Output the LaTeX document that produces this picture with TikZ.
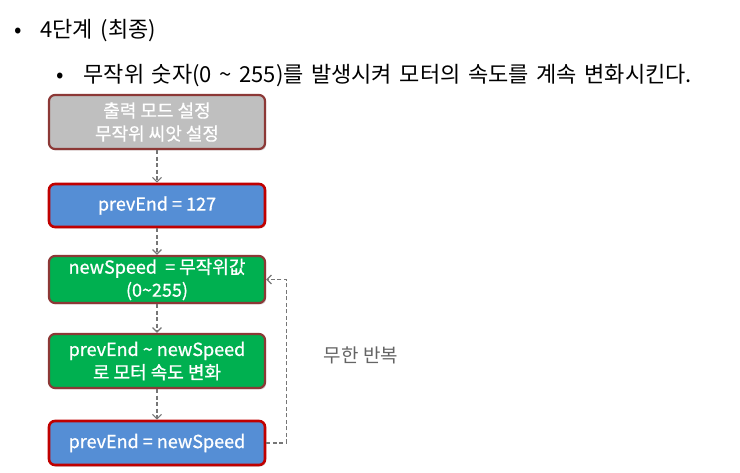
\documentclass[tikz,border=0pt]{standalone}
\usepackage{fontspec}
\setmainfont{Noto Sans CJK KR}
\newfontfamily\boxfont[RawFeature={embolden=0.8}]{Noto Sans CJK KR}
\usetikzlibrary{arrows.meta,shadows}
\definecolor{grayfill}{RGB}{191,191,191}
\definecolor{bluefill}{RGB}{85,142,213}
\definecolor{greenfill}{RGB}{0,176,80}
\definecolor{darkred}{RGB}{140,56,54}
\definecolor{brightred}{RGB}{192,0,0}
\definecolor{linegray}{RGB}{118,118,118}
\definecolor{labelgray}{RGB}{100,100,100}
\newcommand\widespace{\spaceskip=7.6pt plus 1pt\relax}

\tikzset{
  stepbox/.style={rounded corners=6pt, minimum width=216pt, text=white, align=center,
    font=\boxfont\fontsize{18}{23}\selectfont, line width=2.2pt, inner sep=0pt,
    drop shadow={shadow xshift=1.2pt, shadow yshift=-1.5pt, opacity=0.35}},
  graybox/.style={stepbox, fill=grayfill, draw=darkred},
  bluebox/.style={stepbox, fill=bluefill, draw=brightred, line width=2.6pt},
  greenbox/.style={stepbox, fill=greenfill, draw=darkred},
  bullettext/.style={anchor=base west, font=\fontsize{22}{26}\selectfont\widespace},
  flow/.style={-{Straight Barb[length=4.5pt,width=9pt]}, dash pattern=on 4pt off 2.5pt,
    line width=1.2pt, draw=linegray}
}

\begin{document}
\begin{tikzpicture}[x=1pt,y=-1pt]
    \useasboundingbox (0,0) rectangle (740,473);

    % bullet lines
    \node[bullettext] (dotA) at (11,38) {•};
    \node[bullettext] (title) at (37,38) {4단계 (최종)};
    \node[bullettext] (dotB) at (53,83) {•};
    \node[bullettext] (desc) at (80,83) {무작위 숫자(0 \textasciitilde{} 255)를 발생시켜 모터의 속도를 계속 변화시킨다.};

    % flow boxes
    \node[graybox, minimum height=54pt] (init) at (157,122) {출력 모드 설정\\무작위 씨앗 설정};
    \node[bluebox, minimum height=43pt] (start) at (157,205.5) {prevEnd = 127};
    \node[greenbox, minimum height=47pt] (rnd) at (157,279.5) {newSpeed \ = 무작위값\\(0\textasciitilde255)};
    \node[greenbox, minimum height=54pt] (ramp) at (157,361) {prevEnd \textasciitilde{} newSpeed\\로 모터 속도 변화};
    \node[bluebox, minimum height=44pt] (upd) at (157,443) {prevEnd = newSpeed};

    % arrows
    \draw[flow] (init) -- (start);
    \draw[flow] (start) -- (rnd);
    \draw[flow] (rnd) -- (ramp);
    \draw[flow] (ramp) -- (upd);
    \draw[flow] (upd.east) -- ++(20,0) |- (rnd.east);

    \node[text=labelgray, font=\fontsize{19}{23}\selectfont] (loop) at (361,355) {무한 반복};
\end{tikzpicture}
\end{document}
